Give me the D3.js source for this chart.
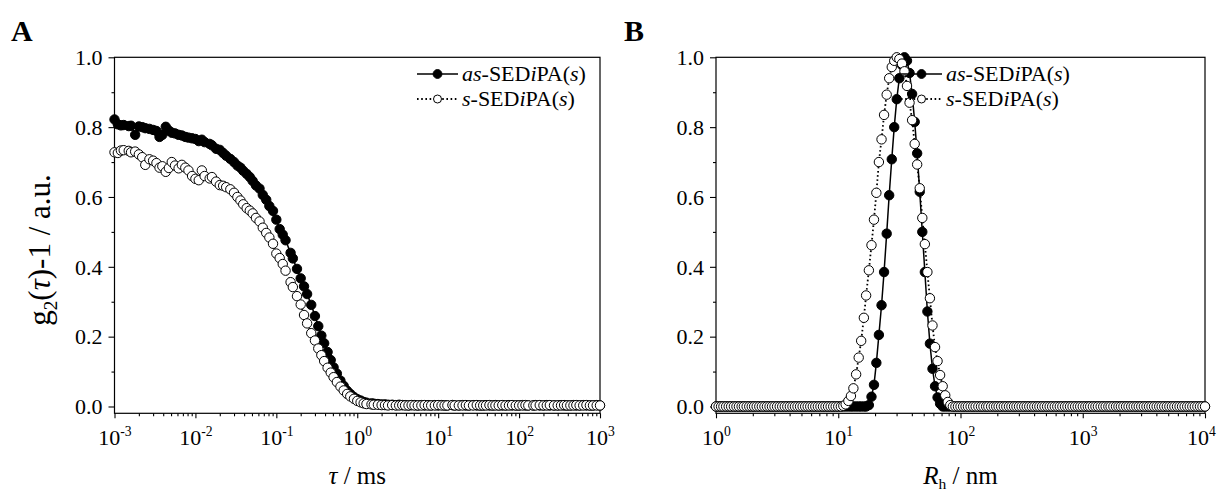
<!DOCTYPE html>
<html>
<head>
<meta charset="utf-8">
<script src="https://cdn.jsdelivr.net/npm/d3@7"></script>
<style>
  body { margin: 0; background: #fff; }
  svg text { font-family: "Liberation Serif", "Times New Roman", Times, serif; fill: #000; }
</style>
</head>
<body>
<svg id="chart" width="1218" height="495"></svg>
<script>
// ---- Panel A: intensity autocorrelation g2(tau)-1 versus lag time (ms) ----
const tauMs = [
  0.0010,0.0011,0.0012,0.0013,0.0015,0.0016,0.0018,0.0020,0.0022,0.0024,0.0027,0.0030,0.0033,0.0036,0.0039,0.0043,0.0047,0.0051,0.0056,0.0062,0.0068,0.0075,0.0082,0.0091,
  0.010,0.011,0.012,0.013,0.015,0.016,0.018,0.020,0.022,0.024,0.027,0.030,0.033,0.036,0.039,0.043,0.047,0.051,0.056,0.062,0.068,0.075,0.082,0.091,
  0.10,0.11,0.12,0.13,0.15,0.16,0.18,0.20,0.22,0.24,0.27,0.30,0.33,0.36,0.39,0.43,0.47,0.51,0.56,0.62,0.68,0.75,0.82,0.91,
  1.0,1.1,1.2,1.3,1.5,1.6,1.8,2.0,2.2,2.4,2.7,3.0,3.3,3.6,3.9,4.3,4.7,5.1,5.6,6.2,6.8,7.5,8.2,9.1,
  10,11,12,13,15,16,18,20,22,24,27,30,33,36,39,43,47,51,56,62,68,75,82,91,
  100,110,120,130,150,160,180,200,220,240,270,300,330,360,390,430,470,510,560,620,680,750,820,910,
  1000
];
const asG2 = [
  0.822,0.808,0.805,0.806,0.803,0.804,0.778,0.802,0.800,0.797,0.795,0.792,0.789,0.772,0.778,0.801,0.790,0.784,0.782,0.778,0.776,0.772,0.770,0.768,
  0.766,0.760,0.764,0.757,0.752,0.748,0.738,0.735,0.726,0.718,0.709,0.700,0.690,0.684,0.675,0.666,0.657,0.646,0.633,0.624,0.606,0.592,0.574,0.560,
  0.535,0.508,0.492,0.476,0.440,0.424,0.394,0.367,0.344,0.322,0.291,0.259,0.230,0.203,0.181,0.156,0.133,0.112,0.094,0.074,0.059,0.045,0.036,0.027,
  0.021,0.017,0.013,0.011,0.009,0.008,0.007,0.006,0.006,0.005,0.005,0.004,0.005,0.004,0.004,0.003,0.004,0.004,0.003,0.004,0.003,0.004,0.003,0.004,
  0.003,0.004,0.003,0.003,0.004,0.003,0.003,0.004,0.003,0.003,0.004,0.003,0.003,0.003,0.004,0.003,0.003,0.004,0.003,0.003,0.003,0.004,0.003,0.003,
  0.003,0.004,0.003,0.003,0.003,0.004,0.003,0.003,0.004,0.003,0.003,0.003,0.004,0.003,0.003,0.003,0.004,0.003,0.003,0.004,0.003,0.003,0.003,0.004,
  0.003
];
const sG2 = [
  0.728,0.726,0.733,0.734,0.732,0.728,0.730,0.722,0.714,0.692,0.708,0.704,0.697,0.684,0.688,0.672,0.683,0.700,0.690,0.682,0.692,0.684,0.676,0.660,
  0.652,0.648,0.676,0.660,0.653,0.657,0.644,0.634,0.632,0.628,0.622,0.612,0.600,0.590,0.579,0.568,0.561,0.553,0.540,0.530,0.512,0.497,0.484,0.466,
  0.438,0.425,0.408,0.389,0.356,0.342,0.316,0.292,0.262,0.238,0.210,0.189,0.166,0.147,0.130,0.111,0.097,0.084,0.070,0.057,0.046,0.036,0.029,0.022,
  0.016,0.012,0.009,0.007,0.006,0.005,0.005,0.004,0.004,0.003,0.004,0.003,0.003,0.004,0.003,0.003,0.004,0.003,0.003,0.003,0.004,0.003,0.003,0.003,
  0.004,0.003,0.003,0.003,0.004,0.003,0.003,0.003,0.004,0.003,0.003,0.004,0.003,0.003,0.003,0.004,0.003,0.003,0.003,0.004,0.003,0.003,0.004,0.003,
  0.003,0.003,0.004,0.003,0.003,0.003,0.004,0.003,0.003,0.004,0.003,0.003,0.003,0.004,0.003,0.003,0.003,0.004,0.003,0.003,0.004,0.003,0.003,0.003,
  0.003
];

// ---- Panel B: hydrodynamic radius distribution (nm) ----
const radiusNm = [
  1.00,1.05,1.10,1.15,1.21,1.27,1.33,1.40,1.47,1.54,1.62,1.69,1.78,1.87,1.96,2.05,2.15,2.26,2.37,2.49,2.61,2.74,2.87,3.01,
  3.16,3.32,3.48,3.65,3.83,4.02,4.22,4.42,4.64,4.87,5.11,5.36,5.62,5.90,6.19,6.49,6.81,7.15,7.50,7.87,8.25,8.66,9.09,9.53,
  10.0,10.5,11.0,11.5,12.1,12.7,13.3,14.0,14.7,15.4,16.2,16.9,17.8,18.7,19.6,20.5,21.5,22.6,23.7,24.9,26.1,27.4,28.7,30.1,
  31.6,33.2,34.8,36.5,38.3,40.2,42.2,44.2,46.4,48.7,51.1,53.6,56.2,59.0,61.9,64.9,68.1,71.5,75.0,78.7,82.5,86.6,90.9,95.3,
  100,105,110,115,121,127,133,140,147,154,162,169,178,187,196,205,215,226,237,249,261,274,287,301,
  316,332,348,365,383,402,422,442,464,487,511,536,562,590,619,649,681,715,750,787,825,866,909,953,
  1000,1050,1100,1150,1210,1270,1330,1400,1470,1540,1620,1690,1780,1870,1960,2050,2150,2260,2370,2490,2610,2740,2870,3010,
  3160,3320,3480,3650,3830,4020,4220,4420,4640,4870,5110,5360,5620,5900,6190,6490,6810,7150,7500,7870,8250,8660,9090,9530,
  10000
];
const asDist = [
  0,0,0,0,0,0,0,0,0,0,0,0, 0,0,0,0,0,0,0,0,0,0,0,0,
  0,0,0,0,0,0,0,0,0,0,0,0, 0,0,0,0,0,0,0,0,0,0,0,0,
  0,0,0,0,0,0,0,0,0,0,0,0, 0.004,0.028,0.062,0.125,0.205,0.290,0.385,0.495,0.605,0.708,0.800,0.880,
  0.940,0.978,1.000,0.990,0.955,0.895,0.815,0.725,0.615,0.500,0.385,0.272, 0.180,0.108,0.058,0.026,0.008,0,0,0,0,0,0,0,
  0,0,0,0,0,0,0,0,0,0,0,0, 0,0,0,0,0,0,0,0,0,0,0,0,
  0,0,0,0,0,0,0,0,0,0,0,0, 0,0,0,0,0,0,0,0,0,0,0,0,
  0,0,0,0,0,0,0,0,0,0,0,0, 0,0,0,0,0,0,0,0,0,0,0,0,
  0,0,0,0,0,0,0,0,0,0,0,0, 0,0,0,0,0,0,0,0,0,0,0,0,
  0
];
const sDist = [
  0,0,0,0,0,0,0,0,0,0,0,0, 0,0,0,0,0,0,0,0,0,0,0,0,
  0,0,0,0,0,0,0,0,0,0,0,0, 0,0,0,0,0,0,0,0,0,0,0,0,
  0,0,0.002,0.006,0.016,0.030,0.052,0.092,0.140,0.188,0.254,0.318, 0.390,0.462,0.535,0.612,0.700,0.765,0.835,0.893,0.940,0.972,0.990,1.000,
  0.995,0.982,0.960,0.918,0.870,0.820,0.752,0.693,0.625,0.540,0.465,0.385, 0.310,0.232,0.170,0.130,0.090,0.058,0.032,0.013,0.004,0,0,0,
  0,0,0,0,0,0,0,0,0,0,0,0, 0,0,0,0,0,0,0,0,0,0,0,0,
  0,0,0,0,0,0,0,0,0,0,0,0, 0,0,0,0,0,0,0,0,0,0,0,0,
  0,0,0,0,0,0,0,0,0,0,0,0, 0,0,0,0,0,0,0,0,0,0,0,0,
  0,0,0,0,0,0,0,0,0,0,0,0, 0,0,0,0,0,0,0,0,0,0,0,0,
  0
];

// ---- Axis ticks and labels ----
const tauTicks = [1e-3, 1e-2, 1e-1, 1e0, 1e1, 1e2, 1e3];
const radiusTicks = [1e0, 1e1, 1e2, 1e3, 1e4];
const yTicks = [0.0, 0.2, 0.4, 0.6, 0.8, 1.0];
const yMinorTicks = [0.1, 0.3, 0.5, 0.7, 0.9];
const yRange = [-0.0195, 1.0];

// Legend entries (italic parts flagged)
const seriesLabels = [
  [{ t: "as", i: true }, { t: "-SED" }, { t: "i", i: true }, { t: "PA(" }, { t: "s", i: true }, { t: ")" }],
  [{ t: "s", i: true }, { t: "-SED" }, { t: "i", i: true }, { t: "PA(" }, { t: "s", i: true }, { t: ")" }]
];
const yTitle = [{ t: "g" }, { t: "2", sub: true }, { t: "(" }, { t: "τ", i: true }, { t: ")-1 / a.u." }];
const xTitleA = [{ t: "τ", i: true }, { t: " / ms" }];
const xTitleB = [{ t: "R", i: true }, { t: "h", sub: true }, { t: " / nm" }];

const W = 1218;
const svg = d3.select("#chart");
const TOP = 57.3, BOTTOM = 413.3;
const TICK_FONT = 22, LEGEND_FONT = 22, TITLE_FONT = 25, YTITLE_FONT = 31;

// Writes a run of mixed-style text into a <text> element
function writeRich(textSel, parts, size, subShift = 0.24) {
  let shift = 0;
  parts.forEach(p => {
    const ts = textSel.append("tspan").text(p.t);
    if (p.i) ts.style("font-style", "italic");
    const want = p.sub ? size * subShift : p.sup ? -size * 0.4 : 0;
    if (want !== shift) { ts.attr("dy", want - shift); shift = want; }
    if (p.sub || p.sup) ts.style("font-size", (size * 0.62) + "px");
  });
}

function drawPanel(cfg) {
  const x = d3.scaleLog().domain(cfg.domain).range([cfg.left, cfg.right]);
  const y = d3.scaleLinear().domain(yRange).range([BOTTOM, TOP]);
  const g = svg.append("g");

  // minor ticks on the log axis (2..9 within every decade)
  const minor = [];
  const [d0, d1] = cfg.domain;
  for (let dec = d0; dec < d1; dec *= 10) {
    for (let m = 2; m <= 9; m++) minor.push(dec * m);
  }
  const xMinor = g.append("g").attr("transform", `translate(0,${BOTTOM})`)
    .call(d3.axisBottom(x).tickValues(minor).tickSize(3).tickFormat(""));
  const xMajor = g.append("g").attr("transform", `translate(0,${BOTTOM})`)
    .call(d3.axisBottom(x).tickValues(cfg.ticks).tickSize(5).tickFormat(""));
  xMajor.selectAll(".tick").each(function (v) {
    const t = d3.select(this).append("text")
      .attr("y", 32).attr("text-anchor", "middle").style("font-size", TICK_FONT + "px");
    writeRich(t, [{ t: "10" }, { t: String(Math.round(Math.log10(v))), sup: true }], TICK_FONT);
    // keep the label inside the canvas
    const tx = +this.getAttribute("transform").match(/translate\(([-\d.]+)/)[1];
    const bb = t.node().getBBox();
    const over = tx + bb.x + bb.width - (W - 2);
    if (over > 0) t.attr("x", -over);
  });

  const yMinorAx = g.append("g").attr("transform", `translate(${cfg.left},0)`)
    .call(d3.axisLeft(y).tickValues(yMinorTicks).tickSize(3).tickFormat(""));
  const yAx = g.append("g").attr("transform", `translate(${cfg.left},0)`)
    .call(d3.axisLeft(y).tickValues(yTicks).tickSize(6).tickPadding(6).tickFormat(d3.format(".1f")));
  yAx.selectAll("text").style("font-size", TICK_FONT + "px").attr("dy", "0.33em");

  [xMinor, xMajor, yMinorAx, yAx].forEach(a => {
    a.select(".domain").remove();
    a.selectAll("line").attr("stroke", "#000").attr("stroke-width", 1.1);
  });

  // plot frame
  g.append("rect")
    .attr("x", cfg.left).attr("y", TOP)
    .attr("width", cfg.right - cfg.left).attr("height", BOTTOM - TOP)
    .attr("fill", "none").attr("stroke", "#000").attr("stroke-width", 1.2);

  // series: line then symbols, solid-filled series first, open series on top
  const styles = [
    { fill: "#000", dash: null },
    { fill: "#fff", dash: "1.6,2.6" }
  ];
  cfg.series.forEach((vals, k) => {
    const pts = d3.zip(cfg.xs, vals);
    const line = d3.line().x(d => x(d[0])).y(d => y(d[1]));
    g.append("path").datum(pts)
      .attr("d", line).attr("fill", "none").attr("stroke", "#000")
      .attr("stroke-width", k === 0 ? 1.5 : 1.8)
      .attr("stroke-dasharray", styles[k].dash);
    g.append("g").selectAll("circle").data(pts).join("circle")
      .attr("cx", d => x(d[0])).attr("cy", d => y(d[1])).attr("r", 4.7)
      .attr("fill", styles[k].fill).attr("stroke", "#000").attr("stroke-width", 1);
  });

  // legend
  seriesLabels.forEach((parts, k) => {
    const ly = cfg.legendY[k];
    const lx = cfg.legendX;
    g.append("line").attr("x1", lx).attr("x2", lx + 41).attr("y1", ly).attr("y2", ly)
      .attr("stroke", "#000").attr("stroke-width", k === 0 ? 1.5 : 1.8)
      .attr("stroke-dasharray", styles[k].dash);
    g.append("circle").attr("cx", lx + 20.5).attr("cy", ly).attr("r", k === 0 ? 4.4 : 4)
      .attr("fill", styles[k].fill).attr("stroke", "#000").attr("stroke-width", 1);
    const t = g.append("text").attr("x", lx + 45).attr("y", ly + 7).style("font-size", LEGEND_FONT + "px");
    writeRich(t, parts, LEGEND_FONT);
  });

  // panel letter
  g.append("text").attr("x", cfg.letterX).attr("y", 41)
    .style("font-size", "30px").style("font-weight", "bold").text(cfg.letter);

  // axis titles
  const xt = g.append("text").attr("x", (cfg.left + cfg.right) / 2).attr("y", 484)
    .attr("text-anchor", "middle").style("font-size", TITLE_FONT + "px");
  writeRich(xt, cfg.xTitle, TITLE_FONT, 0.2);
  if (cfg.yTitle) {
    const yt = g.append("text")
      .attr("transform", `translate(50,250) rotate(-90)`)
      .attr("text-anchor", "middle").style("font-size", YTITLE_FONT + "px");
    writeRich(yt, cfg.yTitle, YTITLE_FONT);
  }
}

drawPanel({
  left: 114.5, right: 600, domain: [1e-3, 1e3], ticks: tauTicks,
  xs: tauMs, series: [asG2, sG2],
  legendX: 417, legendY: [74, 99],
  letter: "A", letterX: 11, xTitle: xTitleA, yTitle: yTitle
});
drawPanel({
  left: 716, right: 1205, domain: [1, 1e4], ticks: radiusTicks,
  xs: radiusNm, series: [asDist, sDist],
  legendX: 901, legendY: [74, 99],
  letter: "B", letterX: 624, xTitle: xTitleB, yTitle: null
});
</script>
</body>
</html>
